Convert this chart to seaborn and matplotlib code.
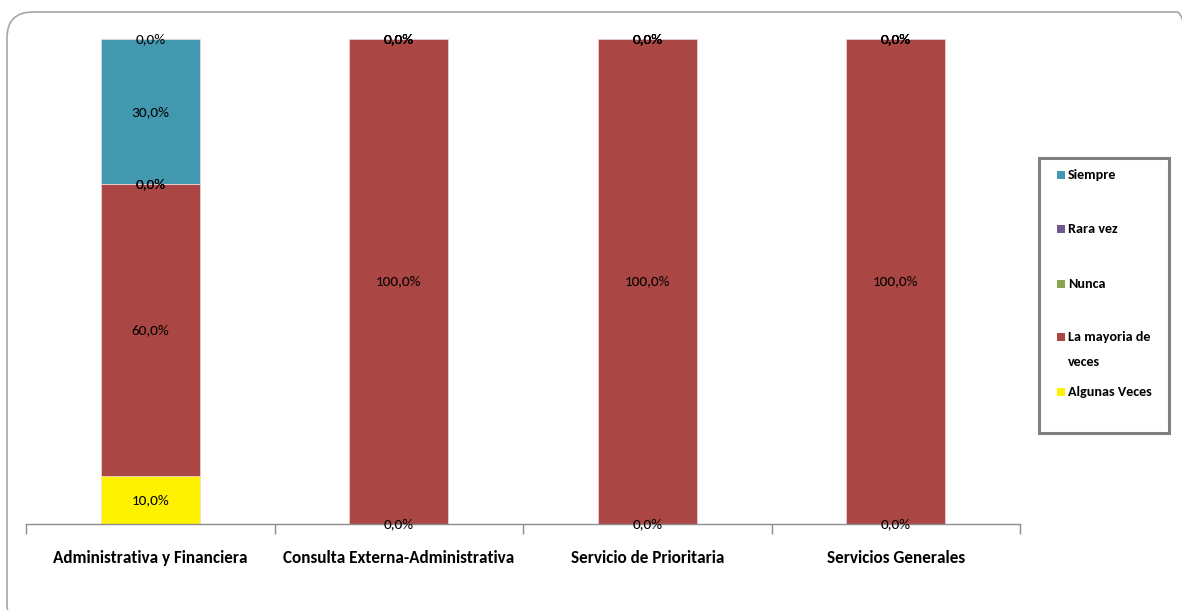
import numpy as np
import pandas as pd
import matplotlib
matplotlib.use("Agg")
import matplotlib.pyplot as plt
from matplotlib.patches import FancyBboxPatch, Rectangle
from matplotlib.transforms import IdentityTransform
import seaborn as sns

# Survey areas and response shares (%), stacked bottom to top
categories = ["Administrativa y Financiera", "Consulta Externa-Administrativa",
              "Servicio de Prioritaria", "Servicios Generales"]
algunas_veces = [10.0, 0.0, 0.0, 0.0]
la_mayoria = [60.0, 100.0, 100.0, 100.0]
nunca = [0.0, 0.0, 0.0, 0.0]
rara_vez = [0.0, 0.0, 0.0, 0.0]
siempre = [30.0, 0.0, 0.0, 0.0]
sin_respuesta = [0.0, 0.0, 0.0, 0.0]

series_names = ["Algunas Veces", "La mayoria de\nveces", "Nunca", "Rara vez", "Siempre", ""]
series_values = [algunas_veces, la_mayoria, nunca, rara_vez, siempre, sin_respuesta]
series_colors = ["#FFF200", "#AA4644", "#89A54E", "#71588F", "#4198AF", "#4198AF"]

sns.set_theme(style="white")
plt.rcParams["font.family"] = ["Carlito", "Liberation Sans Narrow", "Archivo Narrow", "DejaVu Sans"]
plt.rcParams["text.color"] = "black"
plt.rcParams["xtick.color"] = "black"

W, H, DPI = 1182, 610, 100
fig = plt.figure(figsize=(W / DPI, H / DPI), dpi=DPI)
fig.patch.set_facecolor("white")

# rounded outer frame
frame = FancyBboxPatch((7, H - 630), 1196, 618,
                       boxstyle="round,pad=0,rounding_size=26",
                       transform=IdentityTransform(), facecolor="none",
                       edgecolor="#A6A6A6", linewidth=1.2, zorder=0)
fig.patches.append(frame)

ax = fig.add_axes([26 / W, 1 - 524 / H, 994 / W, 485 / H])

data = pd.DataFrame({name: vals for name, vals in zip(series_names, series_values)},
                    index=categories)
cum = data.cumsum(axis=1)
bottoms = cum - data

# draw cumulative totals from the top layer down so each lower layer covers the one above
for name, color in list(zip(series_names, series_colors))[::-1]:
    sns.barplot(x=categories, y=cum[name].values, color=color, width=0.4,
                edgecolor="#F2E4E4", linewidth=0.5, saturation=1, ax=ax)

# value labels centred on each segment
for name in series_names:
    for j, cat in enumerate(categories):
        v = data.loc[cat, name]
        yc = bottoms.loc[cat, name] + v / 2
        ax.text(j, yc, f"{v:.1f}%".replace(".", ","), ha="center", va="center",
                fontsize=11, color="black", clip_on=False, zorder=5)

ax.set_xlim(-0.5, len(categories) - 0.5)
ax.set_ylim(0, 100)
ax.set_yticks([])
ax.set_ylabel("")
ax.set_xlabel("")
for s in ["top", "right", "left"]:
    ax.spines[s].set_visible(False)
ax.spines["bottom"].set_color("#8C8C8C")
ax.spines["bottom"].set_linewidth(1.0)
ax.set_xticks(range(len(categories)))
ax.set_xticklabels(categories, fontsize=12.3, fontweight="bold", color="black")
ax.set_xticks(np.arange(-0.5, len(categories)), minor=True)
ax.tick_params(axis="x", which="major", length=0, pad=19)
ax.tick_params(axis="x", which="minor", length=7, width=1.0, color="#8C8C8C",
               direction="out", bottom=True)
ax.patch.set_alpha(0)

# legend box
lg = Rectangle((1039, H - 433), 130, 275, transform=IdentityTransform(),
               facecolor="white", edgecolor="#808080", linewidth=2.2, zorder=3)
fig.patches.append(lg)
legend_rows = [("Siempre", "#4198AF", [175]),
               ("Rara vez", "#71588F", [229]),
               ("Nunca", "#89A54E", [284]),
               ("La mayoria de", "#AA4644", [337, 362]),
               ("Algunas Veces", "#FFF200", [392])]
for label, color, ys in legend_rows:
    y0 = ys[0]
    fig.patches.append(Rectangle((1057, H - y0 - 4), 8, 8, transform=IdentityTransform(),
                                 facecolor=color, edgecolor="none", zorder=4))
    fig.text(1068 / W, 1 - y0 / H, label, ha="left", va="center",
             fontsize=10.2, fontweight="bold", zorder=5)
    if len(ys) > 1:
        fig.text(1068 / W, 1 - ys[1] / H, "veces", ha="left", va="center",
                 fontsize=10.2, fontweight="bold", zorder=5)

fig.savefig("out.png", dpi=DPI, facecolor="white")
